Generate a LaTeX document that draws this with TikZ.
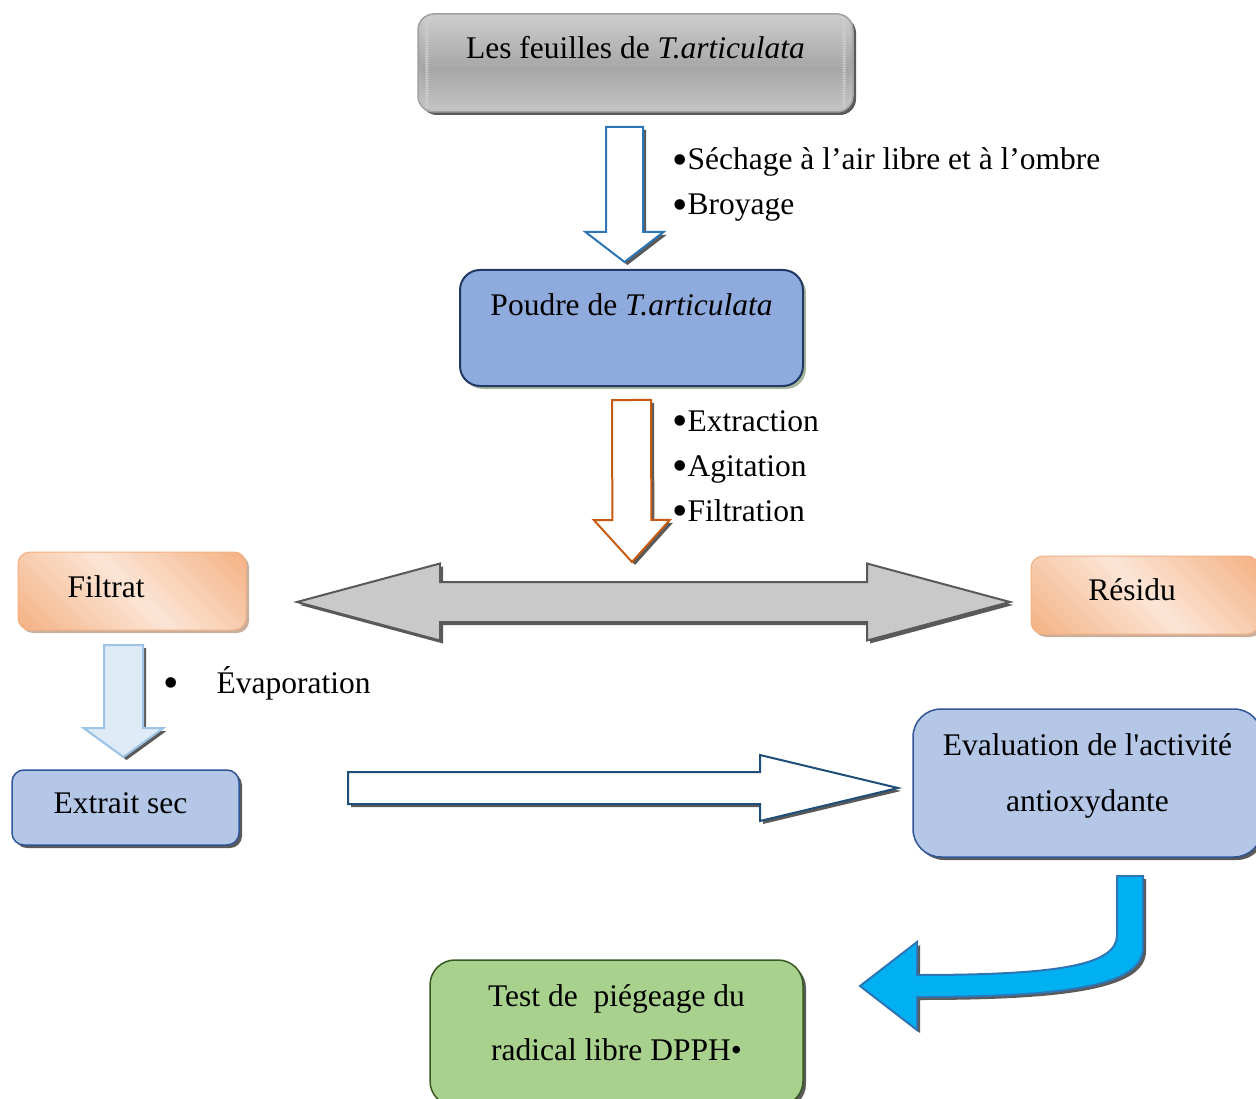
\documentclass[tikz,border=0pt]{standalone}
\usepackage{fontspec}
\setmainfont{Liberation Serif}
\usetikzlibrary{calc,shadows}
\definecolor{GrayLine}{HTML}{A0A0A0}
\definecolor{GrayLight}{HTML}{CDCDCD}
\definecolor{GrayMid}{HTML}{A6A6A6}
\definecolor{ShadowGray}{HTML}{5A5A5A}
\definecolor{ShadowGreen}{HTML}{A9B89B}
\definecolor{ShadowPeach}{HTML}{C9AE9C}
\definecolor{PowderBlue}{HTML}{8FAADC}
\definecolor{Navy}{HTML}{203864}
\definecolor{PaleBlue}{HTML}{B4C7E7}
\definecolor{MidBlue}{HTML}{2F5597}
\definecolor{OrangeDark}{HTML}{F4B183}
\definecolor{OrangeLight}{HTML}{FBE5D6}
\definecolor{LeafGreen}{HTML}{A9D18E}
\definecolor{DarkGreen}{HTML}{385723}
\definecolor{FrameBlue}{HTML}{2E75B6}
\definecolor{Rust}{HTML}{C55A11}
\definecolor{IceBlue}{HTML}{DEEBF7}
\definecolor{IceLine}{HTML}{9DC3E6}
\definecolor{DeepBlue}{HTML}{1F4E79}
\definecolor{ArrowGray}{HTML}{C9C9C9}
\definecolor{ArrowLine}{HTML}{595959}
\definecolor{Cyan}{HTML}{00B0F0}

% block arrow: style, start, tip, shaft half width, head half width, head length
\newcommand{\blockarrow}[6]{%
  \coordinate (ba-h) at ($(#3)!#6!(#2)$);
  \draw[#1] ($(#2)!#4!90:(#3)$) -- ($(ba-h)!#4!-90:(#2)$) -- ($(ba-h)!#5!-90:(#2)$)
    -- (#3) -- ($(ba-h)!#5!90:(#2)$) -- ($(ba-h)!#4!90:(#2)$) -- ($(#2)!#4!-90:(#3)$) -- cycle;}
% two-headed block arrow: style, left tip, right tip, shaft half width, head half width, head length
\newcommand{\dblarrow}[6]{%
  \coordinate (da-l) at ($(#2)!#6!(#3)$);
  \coordinate (da-r) at ($(#3)!#6!(#2)$);
  \draw[#1] (#2) -- ($(da-l)!#5!90:(#3)$) -- ($(da-l)!#4!90:(#3)$) -- ($(da-r)!#4!-90:(#2)$)
    -- ($(da-r)!#5!-90:(#2)$) -- (#3) -- ($(da-r)!#5!90:(#2)$) -- ($(da-r)!#4!90:(#2)$)
    -- ($(da-l)!#4!-90:(#3)$) -- ($(da-l)!#5!-90:(#3)$) -- cycle;}
\newcommand{\dotitem}{\raisebox{-4.5pt}{\fontsize{44}{44}\selectfont\textbullet}}

\tikzset{
  box/.style={line width=1.5pt,inner sep=0pt,align=center},
  shadowof/.style={drop shadow={shadow xshift=3pt,shadow yshift=-3pt,opacity=1,fill=#1}},
  % gray bands, light at top and bottom
  silver/.style={draw=GrayLine,fill=GrayLight,shadowof=ShadowGray,
    path picture={
      \foreach \i in {0,...,39} {
        \pgfmathsetmacro\mix{100*abs(\i-22)/22}
        \pgfmathsetmacro\ta{\i/40}
        \pgfmathsetmacro\tb{(\i+1.5)/40}
        \fill[GrayLight!\mix!GrayMid]
          ($(path picture bounding box.north west)!\ta!(path picture bounding box.south west)$) rectangle
          ($(path picture bounding box.north east)!\tb!(path picture bounding box.south east)$);
      }}},
  % diagonal bands, dark at top right and bottom left
  peach/.style={draw=OrangeDark,line width=1pt,fill=OrangeLight,shadowof=ShadowPeach,
    path picture={
      \foreach \i in {0,...,39} {
        \pgfmathsetmacro\mix{100*abs(\i-19.5)/19.5}
        \pgfmathsetmacro\sa{0.7071*(-110+\i*5.5)}
        \pgfmathsetmacro\sb{0.7071*(-103+\i*5.5)}
        \fill[OrangeDark!\mix!OrangeLight]
          ($(path picture bounding box.center)+(\sa pt+141pt,\sa pt-141pt)$) --
          ($(path picture bounding box.center)+(\sb pt+141pt,\sb pt-141pt)$) --
          ($(path picture bounding box.center)+(\sb pt-141pt,\sb pt+141pt)$) --
          ($(path picture bounding box.center)+(\sa pt-141pt,\sa pt+141pt)$) -- cycle;
      }}},
  steps/.style={anchor=west,inner sep=0pt,align=left}
}

\begin{document}
\begin{tikzpicture}[x=1pt,y=-1pt,every node/.style={font=\fontsize{31.5}{45}\selectfont}]
  \useasboundingbox (0,0) rectangle (1256,1099);

  % boxes
  \node[box,silver,rounded corners=16pt,minimum width=435pt,minimum height=98pt,text height=22pt,text depth=30pt] (feuilles) at (635.5,63) {Les feuilles de \textit{T.articulata}};
  \node[box,draw=Navy,fill=PowderBlue,line width=2pt,rounded corners=20pt,minimum width=343pt,minimum height=116pt,text height=22pt,text depth=46pt,shadowof=ShadowGreen] (poudre) at (631.5,328) {Poudre de \textit{T.articulata}};
  \node[box,peach,rounded corners=12pt,minimum width=228pt,minimum height=78pt,text height=22pt,text depth=10pt] (filtrat) at (132,591) {Filtrat\hspace{52pt}};
  \node[box,peach,rounded corners=12pt,minimum width=228pt,minimum height=78pt,text height=22pt,text depth=12pt] (residu) at (1145,595) {Résidu\hspace{26pt}};
  \node[box,draw=MidBlue,fill=PaleBlue,rounded corners=12pt,minimum width=227pt,minimum height=75pt,text height=22pt,text depth=11pt,shadowof=ShadowGray] (extrait) at (125.5,807.5) {Extrait sec\hspace{10pt}};
  \node[box,draw=MidBlue,fill=PaleBlue,rounded corners=28pt,minimum width=349pt,minimum height=148pt,font=\fontsize{31.5}{56}\selectfont,text height=78pt,text depth=22pt,shadowof=ShadowGray] (evaluation) at (1087.5,783) {Evaluation de l\textquotesingle activité\\antioxydante};
  \node[box,draw=DarkGreen,fill=LeafGreen,rounded corners=25pt,minimum width=373pt,minimum height=146pt,font=\fontsize{31.5}{54}\selectfont,text height=76pt,text depth=22pt,shadowof=ShadowGray] (test) at (616.5,1033) {Test de\ \ piégeage du\\radical libre DPPH•};

  % step lists
  \node[steps] (sechage) at (672,184.5) {\dotitem Séchage à l’air libre et à l’ombre\\\dotitem Broyage};
  \node[steps] (extraction) at (672,468) {\dotitem Extraction\\\dotitem Agitation\\\dotitem Filtration};
  \node[steps] (evaporation) at (163,683) {\dotitem\hspace{38pt}Évaporation};

  % arrow ends
  \coordinate (a1s) at (624.5,127);
  \coordinate (a1e) at (624.5,262);
  \coordinate (a2s) at (631.5,400);
  \coordinate (a2e) at (632,562);
  \coordinate (a3s) at (123.5,645);
  \coordinate (a3e) at (123.5,757);
  \coordinate (a4s) at (348,788);
  \coordinate (a4e) at (898,788);
  \coordinate (splitl) at (297,602);
  \coordinate (splitr) at (1010,602);
  \coordinate (c1s) at (1130,876);
  \coordinate (c1e) at (860,986);

  % block arrows
  \blockarrow{draw=FrameBlue,fill=white,line width=2pt,shadowof=ShadowGray}{a1s}{a1e}{18.5pt}{39pt}{30pt}
  \blockarrow{draw=Rust,fill=white,line width=2pt,shadowof=ShadowGray}{a2s}{a2e}{19.5pt}{38pt}{42pt}
  \blockarrow{draw=IceLine,fill=IceBlue,line width=2pt,shadowof=ShadowGray}{a3s}{a3e}{19.5pt}{40pt}{29pt}
  \blockarrow{draw=DeepBlue,fill=white,line width=2pt,shadowof=ShadowGray}{a4s}{a4e}{16pt}{33pt}{138pt}
  \dblarrow{draw=ArrowLine,fill=ArrowGray,line width=2pt,shadowof=ShadowGray}{splitl}{splitr}{20pt}{38.5pt}{143pt}

  % curved arrow
  \draw[draw=FrameBlue,fill=Cyan,line width=2pt,shadowof=ShadowGray]
    ([xshift=-13pt]c1s) -- ([xshift=13pt]c1s) -- (1143,948) .. controls (1143,985) and (1070,997) .. (917,997)
    -- (917,1030) -- (c1e) -- (917,942) -- (917,975) .. controls (1060,975) and (1117,965) .. (1117,935) -- cycle;
\end{tikzpicture}
\end{document}
